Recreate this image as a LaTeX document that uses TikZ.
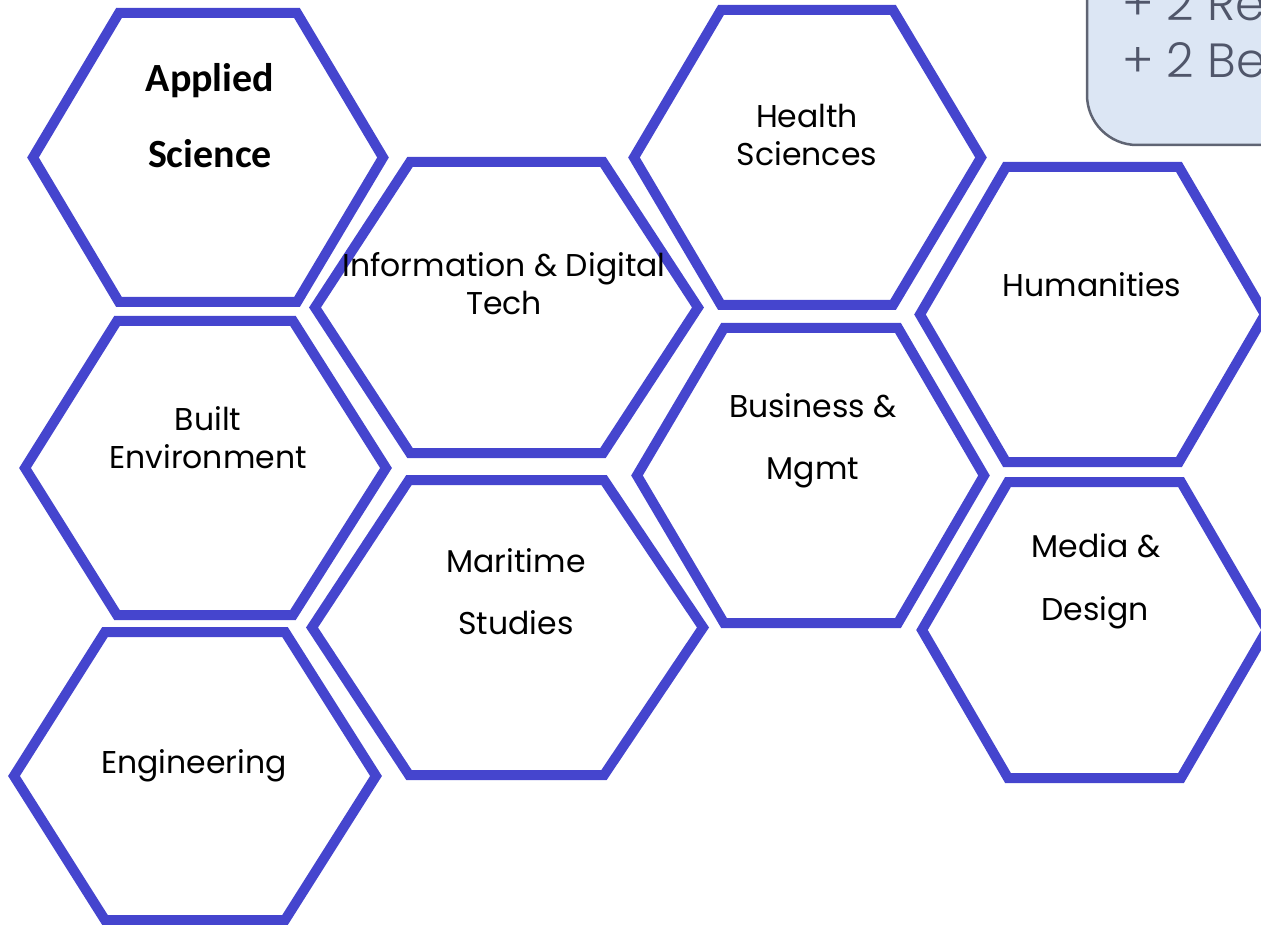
\documentclass[tikz,border=0pt]{standalone}
\usepackage{fontspec}
\newfontfamily\popfont{Poppins}
\newfontfamily\poplight{Poppins Light}
\newfontfamily\calfont{Carlito}
\definecolor{hexblue}{HTML}{4545CE}
\definecolor{boxfill}{HTML}{DCE6F4}
\definecolor{boxline}{HTML}{5F6473}
\definecolor{boxtext}{HTML}{50566A}
\tikzset{
  hexline/.style={draw=hexblue, line width=10pt, line join=miter},
  lbl/.style={anchor=base, inner sep=0pt, font=\popfont\fontsize{31.5}{36}\selectfont},
  lblb/.style={anchor=base, inner sep=0pt, font=\calfont\bfseries\fontsize{40}{46}\selectfont},
  boxlbl/.style={anchor=base west, inner sep=0pt, text=boxtext, font=\poplight\fontsize{48}{56}\selectfont},
  infobox/.style={fill=boxfill, draw=boxline, line width=2.5pt, rounded corners=50pt}
}
% \hexa{left x}{top-left x}{top-right x}{right x}{top y}{bottom y}
\newcommand{\hexa}[6]{%
  \path[hexline] (#1,{(#5+#6)/2}) -- (#2,#5) -- (#3,#5) -- (#4,{(#5+#6)/2}) -- (#3,#6) -- (#2,#6) -- cycle;}
\begin{document}
\begin{tikzpicture}[x=1pt,y=-1pt]
\useasboundingbox (0,0) rectangle (1261,925);
\begin{scope}
\clip (0,0) rectangle (1261,925);
% info box (top right, cut off)
\path[infobox] (1087,-60) rectangle (1420,145);
\node[boxlbl] (re) at (1122,21) {+ 2 Re};
\node[boxlbl] (be) at (1122,78) {+ 2 Be};
% hexagons
\hexa{33}{119}{297}{383}{13}{302}     % Applied Science
\hexa{634}{721}{893}{981}{10}{305}    % Health Sciences
\hexa{315}{410}{603}{698}{162}{453}   % Information & Digital Tech
\hexa{920}{1006}{1179}{1265}{167}{462}% Humanities
\hexa{25}{117}{293}{386}{321}{615}    % Built Environment
\hexa{637}{724}{898}{984}{328}{623}   % Business & Mgmt
\hexa{312}{409}{604}{703}{480}{775}   % Maritime Studies
\hexa{922}{1008}{1181}{1267}{482}{778}% Media & Design
\hexa{14}{105}{285}{376}{632}{920}    % Engineering
% labels
\node[lblb] (as1) at (210,92) {Applied};
\node[lblb] (as2) at (210,168) {Science};
\node[lbl] (hs1) at (807,128) {Health};
\node[lbl] (hs2) at (807,166) {Sciences};
\node[lbl] (id1) at (504,277) {Information \& Digital};
\node[lbl] (id2) at (504,315) {Tech};
\node[lbl] (hu) at (1092,297) {Humanities};
\node[lbl] (be1) at (208,430) {Built};
\node[lbl] (be2) at (208,468) {Environment};
\node[lbl] (bm1) at (813,417) {Business \&};
\node[lbl] (bm2) at (813,479) {Mgmt};
\node[lbl] (ms1) at (516,572) {Maritime};
\node[lbl] (ms2) at (516,634) {Studies};
\node[lbl] (md1) at (1096,557) {Media \&};
\node[lbl] (md2) at (1095,620) {Design};
\node[lbl] (en) at (194,773) {Engineering};
\end{scope}
\end{tikzpicture}
\end{document}
